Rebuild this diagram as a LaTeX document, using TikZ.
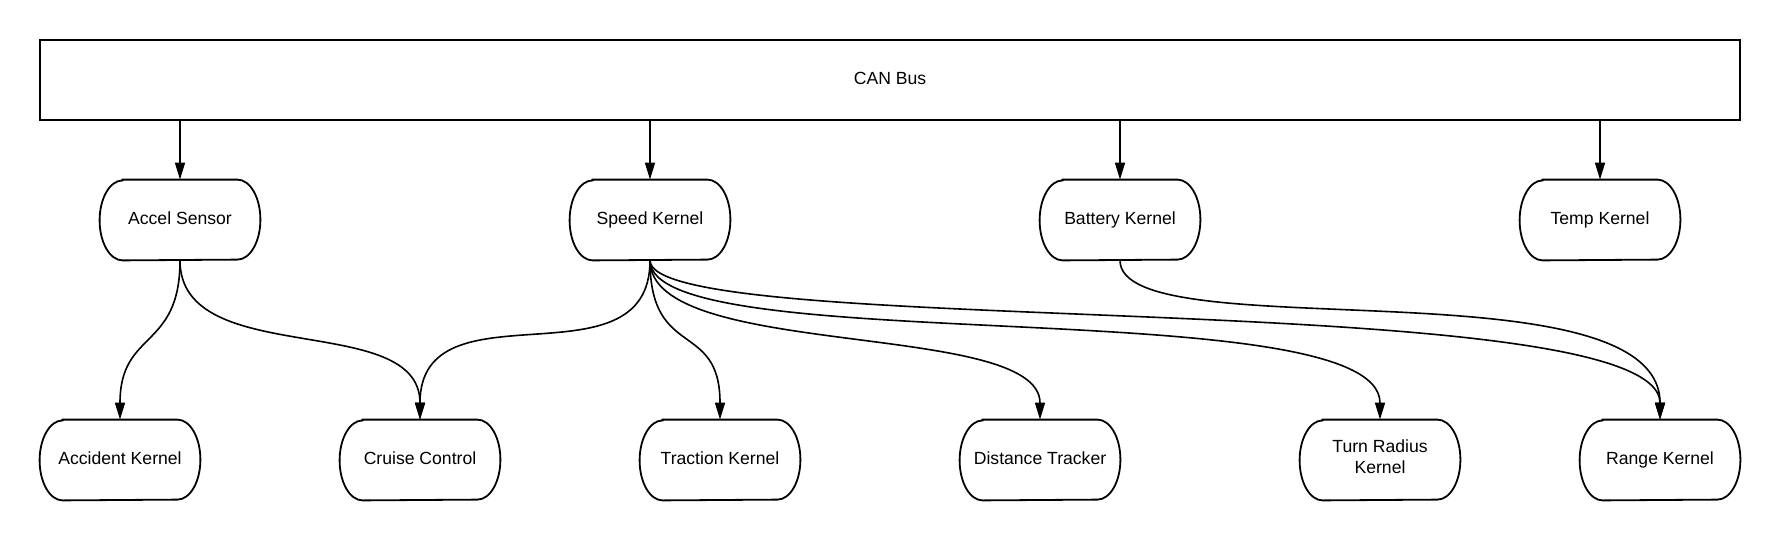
\documentclass[tikz,border=0pt]{standalone}
\usepackage{fontspec}
\setmainfont{Liberation Sans}
\usepackage{tikz}
\usetikzlibrary{arrows.meta}

\begin{document}
\begin{tikzpicture}[
  x=0.5pt, y=-0.5pt,
  busbox/.style={draw, line width=1.2pt, minimum width=850pt, minimum height=40pt, inner sep=0pt, font=\fontsize{8.8}{10.5}\selectfont, execute at begin node=\strut},
  unit/.style={minimum width=80pt, minimum height=40pt, inner sep=0pt, align=center, font=\fontsize{8.8}{10.5}\selectfont, execute at begin node=\strut, execute at end node=\strut},
  rim/.style={line width=0.9pt},
  arr/.style={-{Triangle[length=8.5pt, width=5pt]}, line width=0.8pt}
]
\useasboundingbox (0,0) rectangle (1780,540);
\node[busbox] (bus) at (890,80) {CAN Bus};
% first row
\node[unit] (accel) at (180,220) {Accel Sensor};
\node[unit] (speed) at (650,220) {Speed Kernel};
\node[unit] (battery) at (1120,220) {Battery Kernel};
\node[unit] (temp) at (1600,220) {Temp Kernel};
% second row
\node[unit] (accident) at (120,460) {Accident Kernel};
\node[unit] (cruise) at (420,460) {Cruise Control};
\node[unit] (traction) at (720,460) {Traction Kernel};
\node[unit] (distance) at (1040,460) {Distance Tracker};
\node[unit] (turn) at (1380,460) {Turn Radius\\Kernel};
\node[unit] (rangek) at (1660,460) {Range Kernel};
% outlines with bulging sides
\foreach \n in {accel,speed,battery,temp,accident,cruise,traction,distance,turn,rangek}
  \draw[rim] ([xshift=11.5pt]\n.north west) -- ([xshift=-11.5pt]\n.north east)
    arc[start angle=90, end angle=-90, x radius=11.5pt, y radius=20pt]
    -- ([xshift=11.5pt]\n.south west)
    arc[start angle=270, end angle=90, x radius=11.5pt, y radius=20pt] -- cycle;
% bus drops
\foreach \n in {accel,speed,battery,temp}
  \draw[arr] (\n |- bus.south) -- (\n.north);
% links
\draw[arr] (accel.south) .. controls +(0,90) and +(0,-90) .. (accident.north);
\draw[arr] (accel.south) .. controls +(0,110) and +(0,-110) .. (cruise.north);
\draw[arr] (speed.south) .. controls +(0,130) and +(0,-140) .. (cruise.north);
\draw[arr] (speed.south) .. controls +(0,100) and +(0,-100) .. (traction.north);
\draw[arr] (speed.south) .. controls +(0,100) and +(0,-100) .. (distance.north);
\draw[arr] (speed.south) .. controls +(0,100) and +(0,-130) .. (turn.north);
\draw[arr] (speed.south) .. controls +(0,80) and +(0,-135) .. (rangek.north);
\draw[arr] (battery.south) .. controls +(0,90) and +(0,-160) .. (rangek.north);
\end{tikzpicture}
\end{document}
